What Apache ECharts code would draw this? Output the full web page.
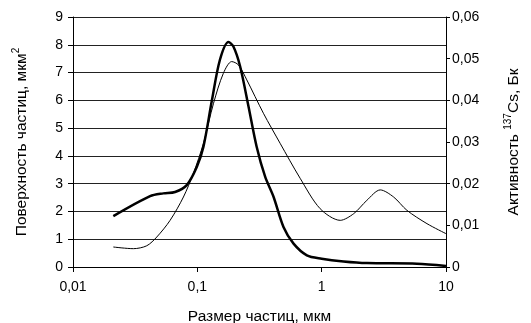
<!DOCTYPE html>
<html>
<head>
<meta charset="utf-8">
<script src="https://cdn.jsdelivr.net/npm/echarts@6/dist/echarts.min.js"></script>
<style>
  html, body { margin: 0; padding: 0; background: #fff; }
  #chart { width: 531px; height: 323px; }
</style>
</head>
<body>
<div id="chart"></div>
<script>
// поверхность частиц (левая ось), мкм2
const surfSize = [0.0211, 0.0417, 0.0533, 0.0662, 0.0822, 0.099, 0.112, 0.131, 0.152, 0.178, 0.195, 0.221, 0.258, 0.30, 0.351, 0.41, 0.493, 0.594, 0.76, 1.0, 1.5, 2.31, 5.83, 10];
const surfValue = [1.83, 2.55, 2.65, 2.7, 2.95, 3.6, 4.33, 6.0, 7.46, 8.1, 7.94, 7.22, 5.78, 4.33, 3.25, 2.53, 1.44, 0.84, 0.42, 0.3, 0.2, 0.14, 0.12, 0.04];

// активность 137Cs (правая ось), Бк
const actSize = [0.0211, 0.0306, 0.0392, 0.0472, 0.0604, 0.0773, 0.093, 0.112, 0.135, 0.162, 0.189, 0.214, 0.25, 0.34, 0.463, 0.671, 0.972, 1.41, 1.81, 2.31, 2.96, 3.79, 4.85, 7.03, 10];
const actValue = [0.0048, 0.0044, 0.0051, 0.0072, 0.0112, 0.0168, 0.0225, 0.0297, 0.0393, 0.0465, 0.0493, 0.0485, 0.0449, 0.0369, 0.0297, 0.0213, 0.014, 0.0112, 0.0128, 0.016, 0.0185, 0.0168, 0.0136, 0.0104, 0.008];

const FONT = '"Liberation Sans", Arial, sans-serif';
const comma = v => String(+v.toFixed(4)).replace('.', ',');

const nameRich = {
  t: { fontSize: 15.5, color: '#000', fontFamily: FONT, lineHeight: 19, verticalAlign: 'bottom' },
  s: { fontSize: 10, color: '#000', fontFamily: FONT, lineHeight: 19, verticalAlign: 'top' }
};

const chart = echarts.init(document.getElementById('chart'));
chart.setOption({
  animation: false,
  textStyle: { fontFamily: FONT, color: '#000' },
  grid: { left: 73, right: 85, top: 17, bottom: 56, outerBoundsMode: 'none', containLabel: false },
  xAxis: {
    type: 'log',
    logBase: 10,
    min: 0.01,
    max: 10,
    name: 'Размер частиц, мкм',
    nameLocation: 'middle',
    nameGap: 42,
    nameTextStyle: { fontSize: 15.5, color: '#000', fontFamily: FONT },
    axisLine: { lineStyle: { color: '#000', width: 1 } },
    axisTick: { show: true, length: 5, lineStyle: { color: '#000' } },
    axisLabel: { fontSize: 14, color: '#000', fontFamily: FONT, margin: 13, formatter: v => comma(v) },
    splitLine: { show: false },
    minorTick: { show: false }
  },
  yAxis: [
    {
      type: 'value',
      min: 0,
      max: 9,
      interval: 1,
      position: 'left',
      name: '{t|Поверхность частиц, мкм}{s|2}',
      nameLocation: 'middle',
      nameGap: 43,
      nameRotate: 90,
      nameTextStyle: { fontFamily: FONT, rich: nameRich },
      axisLine: { show: true, lineStyle: { color: '#000' } },
      axisTick: { show: true, length: 5, lineStyle: { color: '#000' } },
      axisLabel: { fontSize: 14, color: '#000', fontFamily: FONT, margin: 10 },
      splitLine: { show: true, lineStyle: { color: '#222', width: 1 } }
    },
    {
      type: 'value',
      min: 0,
      max: 0.06,
      interval: 0.01,
      position: 'right',
      name: '{t|Активность }{s|137}{t|Cs, Бк}',
      nameLocation: 'middle',
      nameGap: 57,
      nameRotate: 90,
      nameTextStyle: { fontFamily: FONT, rich: nameRich },
      axisLine: { show: true, lineStyle: { color: '#000' } },
      axisTick: { show: true, length: 4, lineStyle: { color: '#000' } },
      axisLabel: { fontSize: 14, color: '#000', fontFamily: FONT, margin: 6, formatter: v => comma(v) },
      splitLine: { show: false }
    }
  ],
  series: [
    {
      type: 'line',
      yAxisIndex: 0,
      smooth: 0.3,
      symbol: 'none',
      lineStyle: { color: '#000', width: 2.5 },
      data: surfSize.map((x, i) => [x, surfValue[i]])
    },
    {
      type: 'line',
      yAxisIndex: 1,
      smooth: 0.3,
      symbol: 'none',
      lineStyle: { color: '#000', width: 1 },
      data: actSize.map((x, i) => [x, actValue[i]])
    }
  ]
});
</script>
</body>
</html>
